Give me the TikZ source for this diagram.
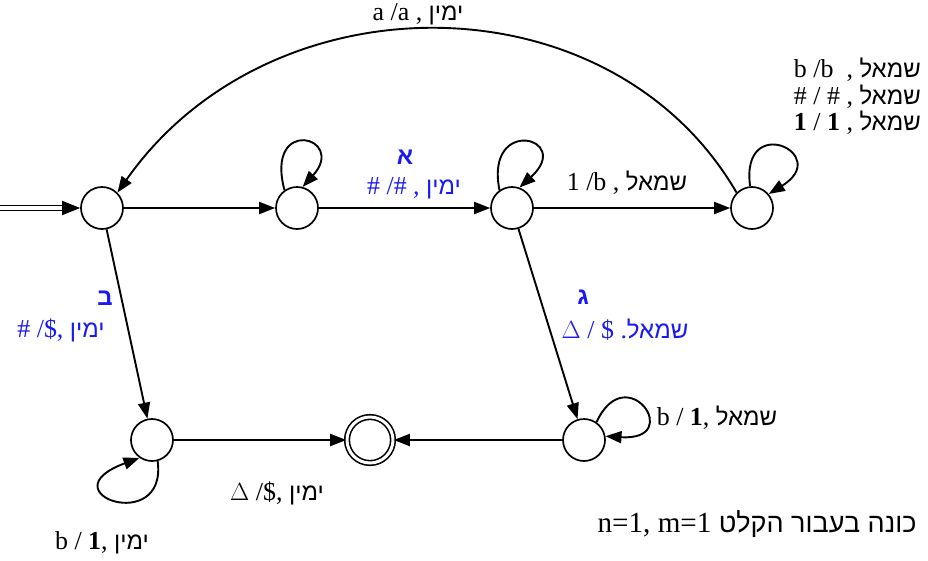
\documentclass[tikz,border=0pt]{standalone}
\usepackage{fontspec}
\setmainfont[Scale=1.08]{Liberation Serif}
\newfontfamily\heb[Script=Hebrew]{Liberation Sans}
\TeXXeTstate=1
\usetikzlibrary{arrows.meta}
\definecolor{lblue}{RGB}{25,25,245}
\newcommand{\hw}[1]{{\heb\beginR #1\endR}}
\begin{document}
\begin{tikzpicture}[x=1pt,y=-1pt,
  st/.style={circle,draw,line width=1.7pt,minimum size=42pt,inner sep=0pt},
  acc/.style={circle,draw,double,double distance=3pt,line width=1.6pt,minimum size=46pt,inner sep=0pt},
  tr/.style={line width=1.9pt,-{Triangle[length=16pt,width=12pt]}},
  lbl/.style={font=\fontsize{24}{27}\selectfont,inner sep=0pt},
  blbl/.style={lbl,text=lblue}]
\useasboundingbox (0,0) rectangle (928,560);
\node[st] (q0) at (102,208) {};
\node[st] (q1) at (297,208) {};
\node[st] (q2) at (512,208) {};
\node[st] (q3) at (752,208) {};
\node[st] (q4) at (152,440) {};
\node[acc] (qf) at (370,440) {};
\node[st] (q5) at (584,440) {};
\coordinate (s0) at (0,208);
\coordinate (s1) at (64,208);
% initial arrow
\draw[line width=1.7pt,double distance=3.5pt] (s0) -- (s1);
\draw[line width=1.9pt,-{Triangle[length=18pt,width=14pt]}] (s1) -- (q0);
% straight transitions
\draw[tr] (q0) -- (q1);
\draw[tr] (q1) -- (q2);
\draw[tr] (q2) -- (q3);
\draw[tr] (q0) -- (q4);
\draw[tr] (q2) -- (q5);
\draw[tr] (q5) -- (qf);
\draw[tr] (q4) -- (qf);
% big arc
\draw[tr] (q3.135) .. controls (610,-25) and (270,-25) .. (q0.45);
% loops
\draw[tr] (q1.125) .. controls +(-20,-75) and +(45,-50) .. (q1.75);
\draw[tr] (q2.125) .. controls +(-15,-75) and +(55,-50) .. (q2.70);
\draw[tr] (q3.95) .. controls +(-10,-75) and +(65,-40) .. (q3.40);
\draw[tr] (q5.55) .. controls +(30,-65) and +(80,5) .. (q5.10);
\draw[tr] (q4.285) .. controls +(10,75) and +(-95,35) .. (q4.235);
% labels
\node[lbl] (l1) at (418,14) {a /a , \hw{ימין}};
\node[lbl,anchor=east] (l2) at (921,70) {b /b \ , \hw{שמאל}};
\node[lbl,anchor=east] (l3) at (921,97) {\# / \# , \hw{שמאל}};
\node[lbl,anchor=east] (l4) at (921,123) {\textbf{1} / \textbf{1} , \hw{שמאל}};
\node[blbl] (la) at (405,157) {\heb\bfseries\beginR א\endR};
\node[blbl] (lb) at (414,188) {\# /\# , \hw{ימין}};
\node[lbl] (lc) at (627,183) {1 /b , \hw{שמאל}};
\node[blbl] (ld) at (105,298) {\heb\bfseries\beginR ב\endR};
\node[blbl] (le) at (61,330) {\# /\$, \hw{ימין}};
\node[blbl] (lf) at (583,297) {\heb\bfseries\beginR ג\endR};
\node[blbl] (lg) at (625,330) {$\Delta$ / \$ .\hw{שמאל}};
\node[lbl] (lh) at (717,418) {b / \textbf{1}, \hw{שמאל}};
\node[lbl] (li) at (277,493) {$\Delta$ /\$, \hw{ימין}};
\node[lbl] (lj) at (102,543) {b / \textbf{1}, \hw{ימין}};
\node[lbl,font=\fontsize{27}{30}\selectfont] (lk) at (757,524) {n=1, m=1 \hw{כונה בעבור הקלט}};
\end{tikzpicture}
\end{document}
